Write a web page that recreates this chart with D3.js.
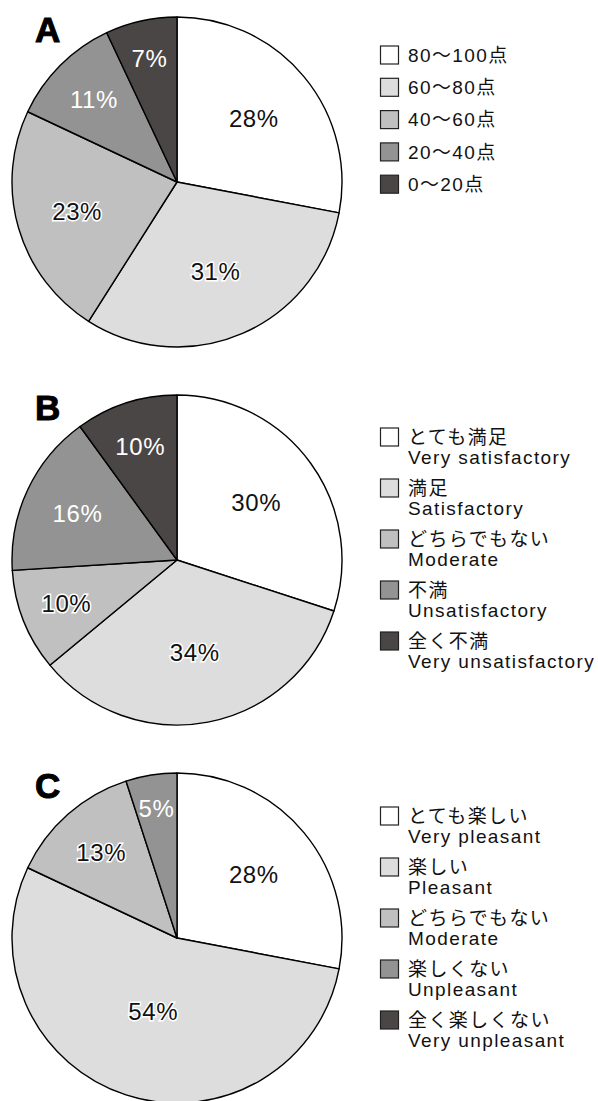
<!DOCTYPE html>
<html>
<head>
<meta charset="utf-8">
<script src="https://cdn.jsdelivr.net/npm/d3@7"></script>
<style>
  body { margin: 0; background: #fff; }
  svg { display: block; font-family: "Liberation Sans", Arial, "Noto Sans CJK JP", sans-serif; }
</style>
</head>
<body>
<svg id="chart" width="598" height="1101"></svg>
<script>
// shares (%) going clockwise from 12 o'clock
const valuesA = [28, 31, 23, 11, 7];
const valuesB = [30, 34, 10, 16, 10];
const valuesC = [28, 54, 13, 5, 0];

const legendA = ["80～100点", "60～80点", "40～60点", "20～40点", "0～20点"];
const legendBja = ["とても満足", "満足", "どちらでもない", "不満", "全く不満"];
const legendBen = ["Very satisfactory", "Satisfactory", "Moderate", "Unsatisfactory", "Very unsatisfactory"];
const legendCja = ["とても楽しい", "楽しい", "どちらでもない", "楽しくない", "全く楽しくない"];
const legendCen = ["Very pleasant", "Pleasant", "Moderate", "Unpleasant", "Very unpleasant"];

const fills = ["#ffffff", "#dcdddc", "#bfc0bf", "#929392", "#4b4646"];

const panels = [
  { tag: "A", values: valuesA, ja: legendA, en: null, cy: 182, legTop: 55, legStep: 32.3 },
  { tag: "B", values: valuesB, ja: legendBja, en: legendBen, cy: 560, legTop: 437, legStep: 51 },
  { tag: "C", values: valuesC, ja: legendCja, en: legendCen, cy: 938, legTop: 816, legStep: 51 }
];

const svg = d3.select("#chart");
const R = 165, cx = 177;

const pie = d3.pie().sort(null).value(d => d);
const arc = d3.arc().innerRadius(0).outerRadius(R);
// small wedges get their label pushed further out
const labelR = d3.scaleLinear().domain([5, 10, 16, 30, 54]).range([131, 119, 110, 98, 77]);

panels.forEach(p => {
  const g = svg.append("g").attr("transform", `translate(${cx},${p.cy})`);
  const arcs = pie(p.values).map((a, i) => ({ ...a, i }));

  g.selectAll("path")
    .data(arcs.filter(a => a.value > 0))
    .join("path")
    .attr("d", arc)
    .attr("fill", a => fills[a.i])
    .attr("stroke", "#000")
    .attr("stroke-width", 1.4)
    .attr("stroke-linejoin", "round");

  g.selectAll("text.pct")
    .data(arcs.filter(a => a.value > 0))
    .join("text")
    .attr("class", "pct")
    .attr("transform", a => {
      const r = labelR(a.value);
      const ang = (a.startAngle + a.endAngle) / 2;
      return `translate(${Math.sin(ang) * r},${-Math.cos(ang) * r})`;
    })
    .attr("text-anchor", "middle")
    .attr("dy", "0.36em")
    .attr("font-size", 24)
    .attr("letter-spacing", 0.6)
    .attr("fill", a => a.i >= 3 ? "#fff" : "#111")
    .attr("stroke", a => a.i >= 3 ? "none" : "#fff")
    .attr("stroke-width", 3)
    .attr("paint-order", "stroke")
    .text(a => a.value + "%");

  // panel letter
  svg.append("text")
    .attr("x", 35)
    .attr("y", p.cy - R + 25)
    .attr("font-size", 35)
    .attr("font-weight", "bold")
    .attr("fill", "#000")
    .attr("stroke", "#000")
    .attr("stroke-width", 1)
    .text(p.tag);

  // legend
  const leg = svg.append("g").attr("transform", `translate(380,${p.legTop})`);
  const item = leg.selectAll("g")
    .data(p.ja)
    .join("g")
    .attr("transform", (d, i) => `translate(0,${i * p.legStep})`);

  item.append("rect")
    .attr("x", 0.5).attr("y", -9)
    .attr("width", 18).attr("height", 18)
    .attr("fill", (d, i) => fills[i])
    .attr("stroke", "#222")
    .attr("stroke-width", 1.2);

  item.append("text")
    .attr("x", 28)
    .attr("dy", "0.36em")
    .attr("font-size", 19)
    .attr("letter-spacing", 1.4)
    .attr("fill", "#111")
    .text(d => d);

  if (p.en) {
    item.append("text")
      .attr("x", 28)
      .attr("y", 20)
      .attr("dy", "0.36em")
      .attr("font-size", 19)
      .attr("letter-spacing", 1.4)
      .attr("fill", "#111")
      .text((d, i) => p.en[i]);
  }
});
</script>
</body>
</html>
